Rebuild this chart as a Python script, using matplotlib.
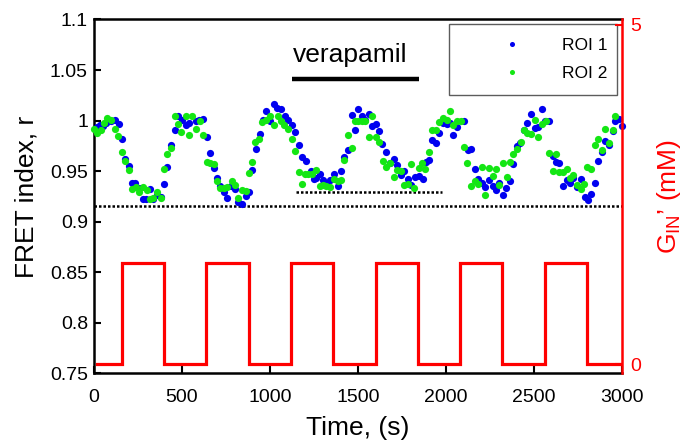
import matplotlib
matplotlib.use("Agg")
import matplotlib.pyplot as plt
from matplotlib.ticker import FuncFormatter

plt.rcParams['font.family'] = ['Liberation Sans', 'DejaVu Sans']
plt.rcParams['mathtext.fontset'] = 'custom'
plt.rcParams['mathtext.rm'] = 'Liberation Sans'
plt.rcParams['mathtext.it'] = 'Liberation Sans'

# ---------------- data ----------------
roi1_t = [18, 37, 56, 71, 97, 120, 143, 162, 181, 200, 219, 238, 260, 279, 298, 321, 340, 359, 382,
          400, 419, 438, 461, 480, 503, 522, 541, 579, 601, 624, 643, 662, 681, 700, 719, 741, 760,
          779, 802, 821, 842, 863, 882, 900, 923, 942, 961, 980, 1003, 1022, 1041, 1063, 1086, 1105,
          1126, 1143, 1164, 1183, 1204, 1234, 1249, 1264, 1283, 1302, 1321, 1344, 1363, 1386, 1404,
          1423, 1444, 1465, 1484, 1503, 1522, 1541, 1564, 1582, 1601, 1620, 1639, 1662, 1681, 1704,
          1723, 1745, 1764, 1783, 1802, 1825, 1844, 1867, 1886, 1904, 1923, 1942, 1961, 1984, 2003,
          2022, 2041, 2064, 2101, 2124, 2143, 2162, 2181, 2204, 2223, 2242, 2264, 2283, 2302, 2321,
          2340, 2363, 2382, 2401, 2420, 2442, 2461, 2484, 2503, 2522, 2545, 2564, 2583, 2605, 2624,
          2643, 2662, 2685, 2704, 2723, 2745, 2764, 2787, 2806, 2825, 2844, 2863, 2886, 2904, 2923,
          2946, 2961, 2984, 3000]
roi1_r = [0.994, 0.996, 0.995, 0.998, 1.000, 1.001, 0.997, 0.982, 0.962, 0.955, 0.938, 0.938, 0.933,
          0.922, 0.922, 0.932, 0.922, 0.926, 0.924, 0.937, 0.954, 0.976, 0.991, 1.005, 1.001, 0.996,
          0.998, 1.000, 1.001, 1.002, 0.984, 0.968, 0.953, 0.943, 0.935, 0.929, 0.923, 0.935, 0.932,
          0.919, 0.917, 0.925, 0.929, 0.951, 0.972, 0.987, 1.001, 1.009, 1.000, 1.016, 1.012, 1.011,
          1.005, 1.001, 0.996, 0.989, 0.976, 0.964, 0.960, 0.950, 0.942, 0.943, 0.947, 0.941, 0.938,
          0.941, 0.947, 0.935, 0.950, 0.964, 0.971, 1.006, 0.991, 1.011, 1.005, 1.001, 1.007, 0.995,
          0.997, 0.990, 0.977, 0.969, 0.958, 0.962, 0.956, 0.946, 0.950, 0.942, 0.936, 0.944, 0.945,
          0.942, 0.959, 0.961, 0.981, 0.978, 0.988, 0.998, 0.997, 0.998, 0.986, 0.994, 1.000, 0.971,
          0.972, 0.952, 0.942, 0.938, 0.934, 0.941, 0.935, 0.931, 0.938, 0.926, 0.933, 0.940, 0.957,
          0.975, 0.978, 0.991, 0.998, 1.007, 0.993, 0.994, 1.011, 1.000, 1.000, 0.965, 0.959, 0.958,
          0.935, 0.941, 0.938, 0.943, 0.934, 0.942, 0.924, 0.921, 0.927, 0.938, 0.960, 0.969, 0.980,
          0.976, 0.990, 1.000, 1.002, 0.995]

roi2_t = [0, 18, 41, 60, 78, 101, 120, 139, 162, 181, 200, 219, 241, 260, 283, 302, 321, 340, 359, 382,
          400, 419, 442, 461, 480, 499, 522, 541, 560, 582, 605, 624, 643, 662, 681, 700, 719, 741,
          760, 783, 802, 821, 844, 863, 882, 900, 919, 938, 957, 980, 1003, 1022, 1045, 1063, 1082,
          1105, 1124, 1143, 1164, 1183, 1200, 1219, 1242, 1260, 1283, 1302, 1321, 1344, 1363, 1386,
          1404, 1423, 1442, 1465, 1484, 1503, 1522, 1541, 1564, 1582, 1601, 1620, 1643, 1662, 1685,
          1704, 1723, 1742, 1764, 1783, 1802, 1821, 1844, 1863, 1882, 1904, 1923, 1942, 1961, 1984,
          2003, 2022, 2041, 2064, 2083, 2101, 2120, 2143, 2162, 2181, 2204, 2223, 2242, 2264, 2283,
          2302, 2321, 2344, 2363, 2382, 2404, 2423, 2442, 2461, 2484, 2503, 2522, 2545, 2567, 2583,
          2605, 2624, 2643, 2662, 2685, 2704, 2723, 2745, 2764, 2783, 2802, 2821, 2844, 2863, 2886,
          2904, 2923, 2946, 2961]
roi2_r = [0.992, 0.988, 0.991, 0.998, 1.003, 1.001, 0.992, 0.985, 0.969, 0.960, 0.951, 0.932, 0.934,
          0.929, 0.934, 0.931, 0.922, 0.923, 0.929, 0.923, 0.952, 0.967, 0.973, 1.005, 0.997, 0.989,
          1.005, 0.986, 1.005, 0.992, 1.000, 0.986, 0.959, 0.958, 0.957, 0.940, 0.933, 0.933, 0.934,
          0.940, 0.936, 0.923, 0.931, 0.930, 0.948, 0.959, 0.979, 0.982, 0.999, 1.001, 1.005, 0.996,
          1.005, 1.000, 0.996, 0.992, 0.982, 0.970, 0.949, 0.937, 0.947, 0.947, 0.947, 0.951, 0.935,
          0.936, 0.935, 0.934, 0.942, 0.940, 0.941, 0.961, 0.986, 0.973, 1.000, 1.000, 1.000, 1.000,
          0.984, 1.005, 0.984, 0.979, 0.960, 0.954, 0.958, 0.944, 0.951, 0.950, 0.936, 0.937, 0.957,
          0.933, 0.953, 0.958, 0.952, 0.969, 0.991, 0.991, 0.999, 1.003, 1.001, 1.009, 0.996, 1.000,
          1.000, 0.974, 0.958, 0.935, 0.940, 0.937, 0.954, 0.926, 0.953, 0.945, 0.952, 0.936, 0.958,
          0.944, 0.959, 0.967, 0.972, 0.979, 0.991, 0.988, 0.987, 1.001, 0.984, 0.997, 1.000, 0.968,
          0.950, 0.967, 0.949, 0.949, 0.952, 0.943, 0.946, 0.936, 0.932, 0.937, 0.954, 0.952, 0.976,
          0.982, 0.971, 0.992, 0.978, 0.991, 1.005]

# glucose protocol (right axis, mM)
g_switch_times = [20, 160, 400, 640, 880, 1120, 1360, 1600, 1840, 2080, 2320, 2560, 2800, 3000]
g_levels = [0, 1.5, 0, 1.5, 0, 1.5, 0, 1.5, 0, 1.5, 0, 1.5, 0]

baseline_r = 0.9153
baseline_t = [0, 3000]
vera_floor_r = 0.929
vera_floor_t = [1150, 1980]
vera_bar_r = 1.041
vera_bar_t = [1124, 1844]
vera_label = "verapamil"
vera_label_t = 1455
vera_label_r = 1.053

x_ticks = [0, 500, 1000, 1500, 2000, 2500, 3000]
y_ticks = [0.75, 0.8, 0.85, 0.9, 0.95, 1.0, 1.05, 1.1]
g_ticks = [0, 5]

# ---------------- figure ----------------
fig = plt.figure(figsize=(6.86, 4.4), dpi=100)
ax = fig.add_axes([0.1363, 0.1516, 0.7708, 0.8041])
ax2 = ax.twinx()

ax.plot(roi1_t, roi1_r, linestyle='none', marker='o', markersize=5.2,
        color='#0000f0', markeredgewidth=0, label='ROI 1', clip_on=False, zorder=3)
ax.plot(roi2_t, roi2_r, linestyle='none', marker='o', markersize=5.2,
        color='#14e614', markeredgewidth=0, label='ROI 2', clip_on=False, zorder=3)

ax.plot(baseline_t, [baseline_r] * 2, color='black', lw=1.8, linestyle=(0, (1, 0.8)))
ax.plot(vera_floor_t, [vera_floor_r] * 2, color='black', lw=1.8, linestyle=(0, (1, 0.8)))
ax.plot(vera_bar_t, [vera_bar_r] * 2, color='black', lw=3.2, solid_capstyle='butt')
ax.text(vera_label_t, vera_label_r, vera_label, ha='center', va='bottom', fontsize=19)

ax.set_xlim(0, 3000)
ax.set_ylim(0.75, 1.1)
ax.set_xticks(x_ticks)
ax.set_yticks(y_ticks)
ax.yaxis.set_major_formatter(FuncFormatter(lambda v, p: f"{v:g}"))
ax.tick_params(axis='both', direction='in', length=5, width=1.5, labelsize=14, colors='black')
ax.tick_params(axis='x', pad=11)
ax.tick_params(axis='y', pad=4)
ax.tick_params(top=False, right=False)
for s in ['left', 'bottom', 'top']:
    ax.spines[s].set_linewidth(1.8)
ax.spines['right'].set_visible(False)

ax.set_xlabel('Time, (s)', fontsize=19, labelpad=7.5)
ax.set_ylabel('FRET index, r', fontsize=19, labelpad=8.5)

# step for G
gx, gy = [], []
for i, lvl in enumerate(g_levels):
    gx += [g_switch_times[i], g_switch_times[i + 1]]
    gy += [lvl, lvl]
ax2.plot(gx, gy, color='red', lw=2.3, solid_joinstyle='miter')
g_per_px = 5 / (364.3 - 25.0)
ax2.set_ylim(-(373.3 - 364.3) * g_per_px, 5 + (25.0 - 19.5) * g_per_px)
ax2.set_yticks(g_ticks)
ax2.tick_params(axis='y', direction='in', length=5, width=1.5, colors='red',
                labelsize=14, pad=6)
for s in ['left', 'bottom', 'top']:
    ax2.spines[s].set_visible(False)
ax2.spines['right'].set_color('red')
ax2.spines['right'].set_linewidth(1.8)
ax2.set_ylabel("G$_{\\mathrm{IN}}$’ (mM)", color='red', fontsize=19, labelpad=10)

leg = ax.legend(loc='upper left', bbox_to_anchor=(0.673, 0.792, 0.317, 0.195), mode='expand',
                fontsize=12.5, frameon=True, fancybox=False, edgecolor='#333333',
                handlelength=5.6, handletextpad=0.1, markerscale=0.7, borderpad=0.78,
                labelspacing=0.75, borderaxespad=0)
leg.get_frame().set_linewidth(1.0)
leg.set_zorder(10)

fig.savefig('out.png', dpi=100)
